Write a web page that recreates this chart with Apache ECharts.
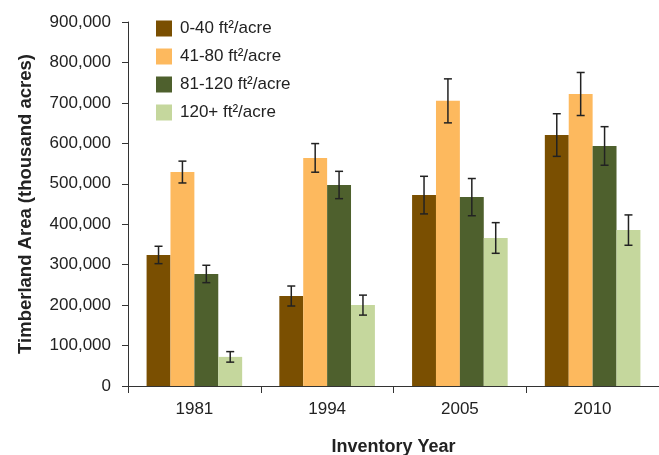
<!DOCTYPE html>
<html>
<head>
<meta charset="utf-8">
<script src="https://cdn.jsdelivr.net/npm/echarts@6/dist/echarts.min.js"></script>
<style>
  html, body { margin: 0; padding: 0; background: #fff; }
  #chart { width: 659px; height: 455px; }
</style>
</head>
<body>
<div id="chart"></div>
<script>
// Inventory years on the category axis
const years = ['1981', '1994', '2005', '2010'];

// Basal-area classes (legend names)
const classNames = ['0-40 ft²/acre', '41-80 ft²/acre', '81-120 ft²/acre', '120+ ft²/acre'];
const classColors = ['#7a4f01', '#fdb95e', '#4e602d', '#c5d79d'];

// Timberland area (thousand acres) per class, by year
const area0to40   = [324000, 222500, 472000, 620500];
const area41to80  = [529000, 564000, 705000, 722000];
const area81to120 = [277000, 497000, 467000, 593500];
const area120plus = [72000, 200000, 366000, 385500];

// Standard error (± thousand acres) per class, by year
const err0to40   = [21500, 24700, 46500, 52700];
const err41to80  = [27000, 35400, 54400, 53200];
const err81to120 = [21500, 33800, 46000, 47700];
const err120plus = [13000, 24700, 37900, 37500];

const areas = [area0to40, area41to80, area81to120, area120plus];
const errs = [err0to40, err41to80, err81to120, err120plus];

const FONT = '"Liberation Sans", Arial, Helvetica, sans-serif';
const CAT_GAP = 0.28;
const nSeries = classNames.length;

const barSeries = classNames.map((name, i) => ({
  name: name,
  type: 'bar',
  data: areas[i],
  barGap: '0%',
  barCategoryGap: (CAT_GAP * 100) + '%',
  itemStyle: { color: classColors[i] },
  z: 2
}));

// Error bars drawn over each bar
const errSeries = classNames.map((name, i) => ({
  type: 'custom',
  name: name + ' err',
  data: years.map((y, j) => [j, areas[i][j] - errs[i][j], areas[i][j] + errs[i][j]]),
  encode: { x: 0, y: [1, 2] },
  z: 5,
  silent: true,
  renderItem: function (params, api) {
    const idx = api.value(0);
    const lo = api.coord([idx, api.value(1)]);
    const hi = api.coord([idx, api.value(2)]);
    const band = api.size([1, 0])[0];
    const barW = band * (1 - CAT_GAP) / nSeries;
    const x = lo[0] + (i - (nSeries - 1) / 2) * barW;
    const cap = 4;
    const style = { stroke: '#222', lineWidth: 1.5 };
    return {
      type: 'group',
      children: [
        { type: 'line', shape: { x1: x, y1: lo[1], x2: x, y2: hi[1] }, style: style },
        { type: 'line', shape: { x1: x - cap, y1: hi[1], x2: x + cap, y2: hi[1] }, style: style },
        { type: 'line', shape: { x1: x - cap, y1: lo[1], x2: x + cap, y2: lo[1] }, style: style }
      ]
    };
  }
}));

const chart = echarts.init(document.getElementById('chart'), null, { renderer: 'canvas' });
chart.setOption({
  animation: false,
  backgroundColor: '#ffffff',
  textStyle: { fontFamily: FONT },
  grid: { left: 128, right: 0, top: 22, bottom: 69, containLabel: false, outerBoundsMode: 'none' },
  legend: {
    data: classNames,
    orient: 'vertical',
    left: 151,
    top: 15,
    itemWidth: 16,
    itemHeight: 16,
    itemGap: 11,
    icon: 'rect',
    textStyle: { fontFamily: FONT, fontSize: 17, lineHeight: 16, color: '#222', padding: [0, 0, 0, 3] }
  },
  xAxis: {
    type: 'category',
    data: years,
    name: 'Inventory Year',
    nameLocation: 'middle',
    nameGap: 52,
    nameTextStyle: { fontFamily: FONT, fontSize: 18, fontWeight: 'bold', color: '#222' },
    axisLine: { lineStyle: { color: '#333', width: 1 } },
    axisTick: { show: true, length: 7, lineStyle: { color: '#333' } },
    axisLabel: { fontFamily: FONT, fontSize: 17, color: '#222', margin: 15 }
  },
  yAxis: {
    type: 'value',
    min: 0,
    max: 900000,
    interval: 100000,
    name: 'Timberland Area (thousand acres)',
    nameLocation: 'middle',
    nameGap: 93,
    nameTextStyle: { fontFamily: FONT, fontSize: 18.5, fontWeight: 'bold', color: '#222' },
    axisLine: { show: true, lineStyle: { color: '#333', width: 1 } },
    axisTick: { show: true, length: 6, lineStyle: { color: '#333' } },
    splitLine: { show: false },
    axisLabel: {
      fontFamily: FONT, fontSize: 17, color: '#222', margin: 17,
      formatter: v => v.toLocaleString('en-US')
    }
  },
  series: barSeries.concat(errSeries)
});
</script>
</body>
</html>
